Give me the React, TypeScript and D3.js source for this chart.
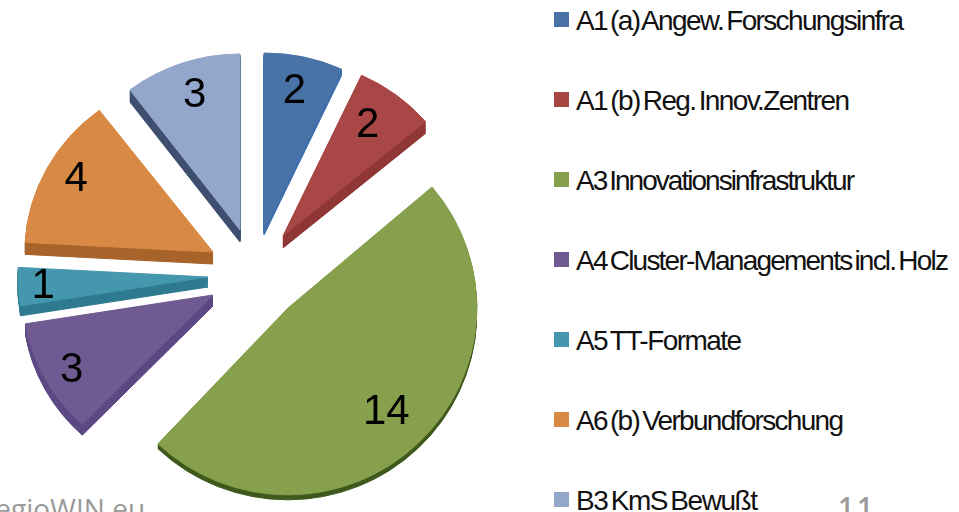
import React from "react";
import * as d3 from "d3";

const categories = [
  "A1 (a) Angew. Forschungsinfra",
  "A1 (b) Reg. Innov.Zentren",
  "A3 Innovationsinfrastruktur",
  "A4 Cluster-Managements incl. Holz",
  "A5 TT-Formate",
  "A6 (b) Verbundforschung",
  "B3 KmS Bewußt",
];
const values = [2, 2, 14, 3, 1, 4, 3];
const faceColors = ["#4a72a6", "#a84644", "#87a04d", "#6f5a92", "#4497ae", "#d88a45", "#93a7cd"];
const wallColors = ["#3f70ad", "#8f3735", "#3f5a1c", "#5c4a84", "#2f7a90", "#a8642c", "#3f4f70"];
const legendEnds = [904, 850, 855, 949, 742, 844, 758];

// exploded-slice layout: apex, radii, wall depth, label distance
const apexX = [264, 283, 288, 213, 208, 213, 240];
const apexY = [229, 236, 308, 295, 277, 252, 230];
const radX = [185, 187, 189, 190, 190, 188, 182];
const radY = [176, 177, 187, 178, 178, 178, 176];
const depths = [6, 12, 5, 11, 10, 12, 12];
const labelR = [141, 140, 143, 160, 165, 155, 142];

export default function App() {
  const slices = d3.pie<number>().sort(null)(values);
  const arc = d3.arc<any>().innerRadius(0).outerRadius(1);
  const legendY = d3.scaleLinear().domain([0, 6]).range([30, 510]);

  return (
    <svg width={959} height={512} style={{ position: "absolute", left: 0, top: 0, display: "block", background: "#fff" }}>
      <defs>
        <filter id="soft" x="-5%" y="-5%" width="110%" height="110%">
          <feGaussianBlur stdDeviation="0.5" />
        </filter>
      </defs>
      <g filter="url(#soft)">
        {slices.map((s, i) => {
          const d = arc(s) as string;
          const layers = d3.range(depths[i], 0, -1);
          return (
            <g key={categories[i]}>
              {layers.map((k) => (
                <path key={k} d={d} transform={`translate(${apexX[i]},${apexY[i] + k}) scale(${radX[i]},${radY[i]})`}
                  fill={wallColors[i]} stroke={wallColors[i]} strokeWidth={1} vectorEffect="non-scaling-stroke" />
              ))}
              <path d={d} transform={`translate(${apexX[i]},${apexY[i]}) scale(${radX[i]},${radY[i]})`}
                fill={faceColors[i]} stroke={faceColors[i]} strokeWidth={1} vectorEffect="non-scaling-stroke" />
            </g>
          );
        })}
      </g>
      <g filter="url(#soft)">
        {slices.map((s, i) => {
          const mid = (s.startAngle + s.endAngle) / 2;
          return (
            <text key={i} x={apexX[i] + labelR[i] * Math.sin(mid)} y={apexY[i] - labelR[i] * Math.cos(mid) + 12}
              textAnchor="middle" fontFamily="Liberation Sans" fontSize={42} fill="#000">
              {values[i]}
            </text>
          );
        })}
      </g>
      {categories.map((c, i) => (
        <g key={c}>
          <rect x={554} y={legendY(i) - 18} width={15} height={15} fill={faceColors[i]} />
          <text x={576} y={legendY(i)} fontFamily="Liberation Sans" fontSize={28} fill="#111" wordSpacing={-3}
            textLength={legendEnds[i] - 576} lengthAdjust="spacing">
            {c}
          </text>
        </g>
      ))}
      <text x={-22} y={519} fontFamily="Open Sans" fontSize={28} fill="#9a9a9a">RegioWIN.eu</text>
      <text x={838} y={518} fontFamily="Open Sans" fontSize={28} fontWeight={600} fill="#9a9a9a" letterSpacing={3}>11</text>
    </svg>
  );
}
